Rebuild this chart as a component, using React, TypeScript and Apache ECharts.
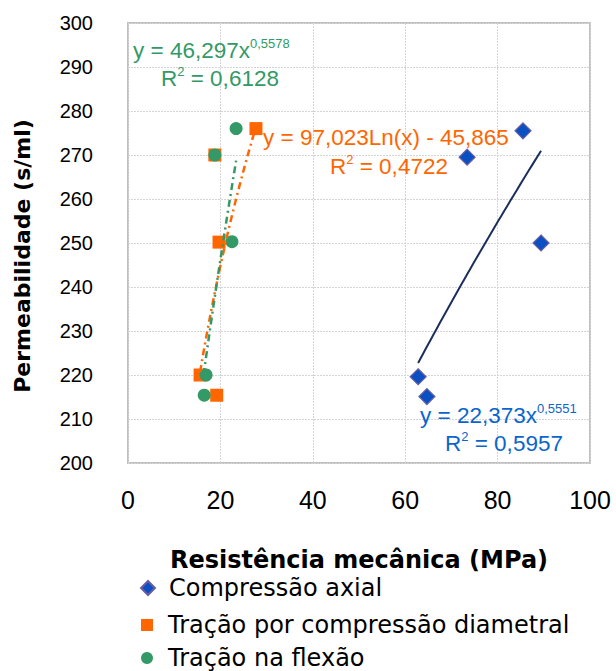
import React, { useEffect, useRef } from "react";
import * as echarts from "echarts";

const seriesNames = ["Compressão axial", "Tração por compressão diametral", "Tração na flexão"];
const compAxialX = [85.5, 73.4, 89.4, 62.8, 64.7];
const compAxialY = [275.5, 269.5, 250, 219.6, 215.1];
const tracDiamX = [27.7, 18.8, 19.7, 15.6, 19.2];
const tracDiamY = [276, 270, 250.2, 220, 215.4];
const flexaoX = [23.4, 18.8, 22.5, 16.9, 16.5];
const flexaoY = [276, 270, 250.3, 220, 215.4];
const xTicks = [0, 20, 40, 60, 80, 100];
const yTicks = [200, 210, 220, 230, 240, 250, 260, 270, 280, 290, 300];

// trendline coefficients as printed in the chart
const powAxial = { a: 22.373, b: 0.5551 };
const logDiam = { a: 97.023, b: -45.865 };
const powFlex = { a: 46.297, b: 0.5578 };

function trend(xs: number[], f: (x: number) => number) {
  const lo = Math.min(...xs);
  const hi = Math.max(...xs);
  const pts: number[][] = [];
  const n = 40;
  for (let i = 0; i <= n; i++) {
    const x = lo + ((hi - lo) * i) / n;
    pts.push([x, f(x)]);
  }
  return pts;
}

const BLUE = "#0a50c2";
const ORANGE = "#ff6600";
const GREEN = "#339966";
const EQ_BLUE = "#0a66cc";
const ARIAL = "Liberation Sans, Arial, sans-serif";
const WIDE = "DejaVu Sans, Verdana, sans-serif";

export default function App() {
  const ref = useRef<HTMLDivElement>(null);
  useEffect(() => {
    if (!ref.current) return;
    const chart = echarts.init(ref.current, undefined, { renderer: "svg" });
    const zip = (xs: number[], ys: number[]) => xs.map((x, i) => [x, ys[i]]);
    const eqRich = (color: string) => ({
      m: { fontFamily: ARIAL, fontSize: 22.5, fill: color, lineHeight: 26, verticalAlign: "middle" },
      s: { fontFamily: ARIAL, fontSize: 13, fill: color, lineHeight: 26, verticalAlign: "top" },
    });
    const eqText = (x: number, y: number, text: string, color: string) => ({
      type: "text",
      x,
      y,
      style: { text, rich: eqRich(color), fill: color, align: "left", verticalAlign: "middle" },
      z: 100,
    });
    const legendItem = (name: string, top: number, size: number) => ({
      data: [name],
      orient: "vertical",
      padding: 0,
      left: 147 - size / 2,
      top,
      itemWidth: size,
      itemHeight: size,
      textStyle: {
        fontFamily: WIDE,
        fontSize: 24,
        lineHeight: 24,
        color: "#000",
        padding: [0, 0, 0, 168 - (147 + size / 2) - 5],
      },
    });
    chart.setOption({
      animation: false,
      backgroundColor: "#ffffff",
      grid: {
        left: 128,
        right: 26,
        top: 23,
        bottom: 208,
        show: true,
        borderColor: "#c0c0c0",
        borderWidth: 2,
        containLabel: false,
      },
      xAxis: {
        type: "value",
        min: xTicks[0],
        max: xTicks[xTicks.length - 1],
        interval: 20,
        name: "Resistência mecânica (MPa)",
        nameLocation: "middle",
        nameGap: 86,
        nameTextStyle: { fontFamily: WIDE, fontWeight: "bold", fontSize: 24, lineHeight: 22, color: "#000" },
        axisLine: { show: false },
        axisTick: { show: false },
        axisLabel: { fontFamily: ARIAL, fontSize: 25, color: "#000", margin: 24 },
        splitLine: { show: true, lineStyle: { color: "#d4d4d4", type: [2, 1], width: 1 } },
      },
      yAxis: {
        type: "value",
        min: yTicks[0],
        max: yTicks[yTicks.length - 1],
        interval: 10,
        axisLine: { show: false },
        axisTick: { show: false },
        axisLabel: { fontFamily: ARIAL, fontSize: 20, color: "#000", margin: 35 },
        splitLine: { show: true, lineStyle: { color: "#d4d4d4", type: [2, 1], width: 1 } },
      },
      legend: [
        legendItem(seriesNames[0], 576, 14),
        legendItem(seriesNames[1], 613, 12),
        legendItem(seriesNames[2], 646, 12),
      ],
      graphic: [
        {
          type: "text",
          x: 22,
          y: 256,
          rotation: Math.PI / 2,
          style: {
            text: "Permeabilidade (s/ml)",
            fontFamily: WIDE,
            fontWeight: "bold",
            fontSize: 22,
            fill: "#000",
            align: "center",
            verticalAlign: "middle",
          },
        },
        eqText(133, 50, "{m|y = 46,297x}{s|0,5578}", GREEN),
        eqText(161, 78, "{m|R}{s|2}{m| = 0,6128}", GREEN),
        eqText(263, 137, "{m|y = 97,023Ln(x) - 45,865}", ORANGE),
        eqText(330, 166, "{m|R}{s|2}{m| = 0,4722}", ORANGE),
        eqText(420, 415, "{m|y = 22,373x}{s|0,5551}", EQ_BLUE),
        eqText(445, 443, "{m|R}{s|2}{m| = 0,5957}", EQ_BLUE),
      ],
      series: [
        {
          name: seriesNames[0],
          type: "scatter",
          symbol: "diamond",
          symbolSize: 16,
          itemStyle: { color: BLUE, borderColor: "#6a5fa0", borderWidth: 1.2, opacity: 1 },
          data: zip(compAxialX, compAxialY),
          z: 3,
        },
        {
          name: seriesNames[1],
          type: "scatter",
          symbol: "rect",
          symbolSize: 13,
          itemStyle: { color: ORANGE, opacity: 1 },
          data: zip(tracDiamX, tracDiamY),
          z: 3,
        },
        {
          name: seriesNames[2],
          type: "scatter",
          symbol: "circle",
          symbolSize: 13,
          itemStyle: { color: GREEN, opacity: 1 },
          data: zip(flexaoX, flexaoY),
          z: 4,
        },
        {
          name: "trend-axial",
          type: "line",
          showSymbol: false,
          symbol: "none",
          lineStyle: { color: "#1b2f5c", width: 2 },
          data: trend(compAxialX, (x) => powAxial.a * Math.pow(x, powAxial.b)),
          z: 5,
        },
        {
          name: "trend-diam",
          type: "line",
          showSymbol: false,
          symbol: "none",
          lineStyle: { color: ORANGE, width: 2.5, type: [7, 4, 2, 4] },
          data: trend(tracDiamX, (x) => logDiam.a * Math.log(x) + logDiam.b),
          z: 5,
        },
        {
          name: "trend-flex",
          type: "line",
          showSymbol: false,
          symbol: "none",
          lineStyle: { color: GREEN, width: 2.5, type: [7, 4, 2, 4], dashOffset: 5 },
          data: trend(flexaoX, (x) => powFlex.a * Math.pow(x, powFlex.b)),
          z: 5,
        },
      ],
    });
    return () => chart.dispose();
  }, []);
  return <div ref={ref} style={{ width: 616, height: 671, position: "absolute", left: 0, top: 0 }} />;
}
